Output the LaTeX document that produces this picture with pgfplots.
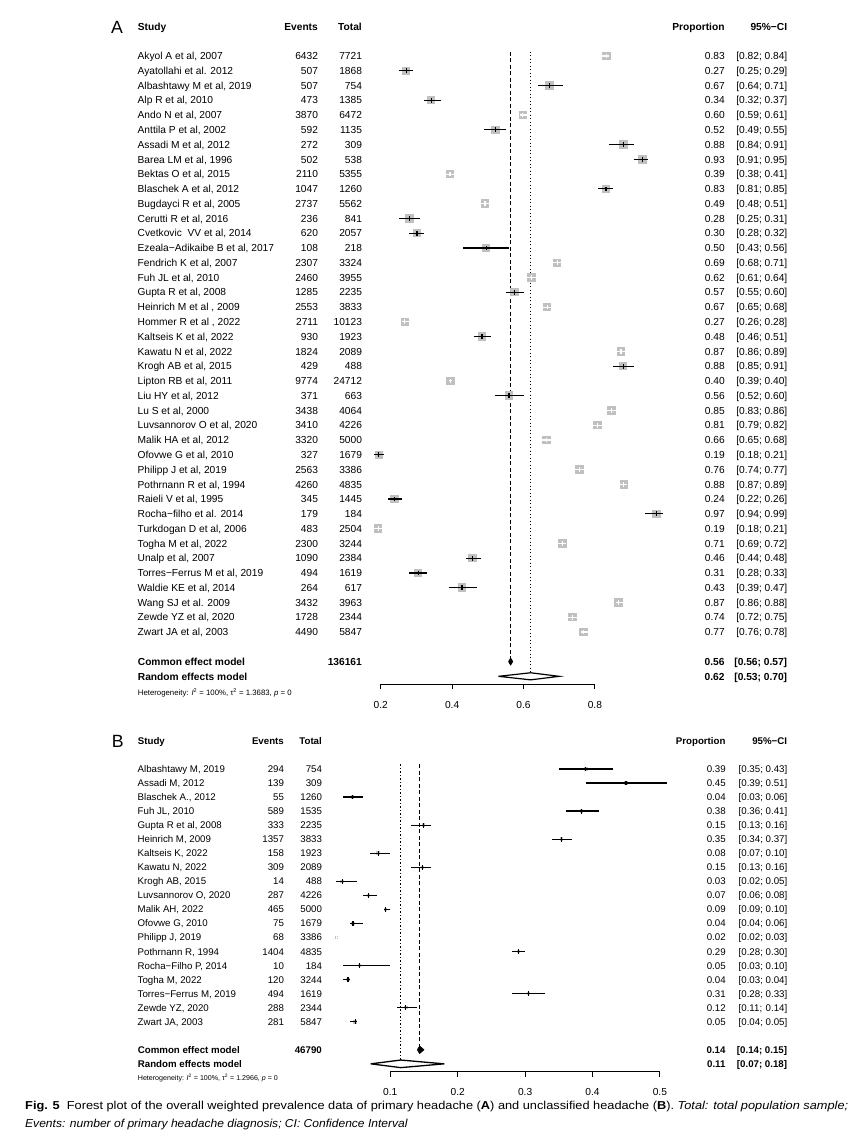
\documentclass[border=0pt]{standalone}
\usepackage{pgfplots}
\pgfplotsset{compat=1.18}
\usepackage{pgfplotstable}
\usepackage{graphicx}
\usepackage{fontspec}
\setmainfont{Liberation Sans}

\definecolor{sqgray}{RGB}{192,192,192}
\newcommand\fa{\fontsize{10.2pt}{12pt}\selectfont}
\newcommand\fb{\fontsize{9.7pt}{11.5pt}\selectfont}
\newcommand\fcap{\fontsize{11.5pt}{14pt}\selectfont}

\pgfplotstableread[col sep=&, row sep=\\]{
y & study & ev & tot & p & lo & hi & w \\
-1 & Akyol A et al, 2007 & 6432 & 7721 & 0.83 & 0.82 & 0.84 & 1 \\
-2 & Ayatollahi et al. 2012 & 507 & 1868 & 0.27 & 0.25 & 0.29 & 0 \\
-3 & Albashtawy M et al, 2019 & 507 & 754 & 0.67 & 0.64 & 0.71 & 0 \\
-4 & Alp R et al, 2010 & 473 & 1385 & 0.34 & 0.32 & 0.37 & 0 \\
-5 & Ando N et al, 2007 & 3870 & 6472 & 0.60 & 0.59 & 0.61 & 1 \\
-6 & Anttila P et al, 2002 & 592 & 1135 & 0.52 & 0.49 & 0.55 & 0 \\
-7 & Assadi M et al, 2012 & 272 & 309 & 0.88 & 0.84 & 0.91 & 0 \\
-8 & Barea LM et al, 1996 & 502 & 538 & 0.93 & 0.91 & 0.95 & 0 \\
-9 & Bektas O et al, 2015 & 2110 & 5355 & 0.39 & 0.38 & 0.41 & 1 \\
-10 & Blaschek A et al, 2012 & 1047 & 1260 & 0.83 & 0.81 & 0.85 & 0 \\
-11 & Bugdayci R et al, 2005 & 2737 & 5562 & 0.49 & 0.48 & 0.51 & 1 \\
-12 & Cerutti R et al, 2016 & 236 & 841 & 0.28 & 0.25 & 0.31 & 0 \\
-13 & Cvetkovic\ \ VV et al, 2014 & 620 & 2057 & 0.30 & 0.28 & 0.32 & 0 \\
-14 & Ezeala−Adikaibe B et al, 2017 & 108 & 218 & 0.50 & 0.43 & 0.56 & 0 \\
-15 & Fendrich K et al, 2007 & 2307 & 3324 & 0.69 & 0.68 & 0.71 & 1 \\
-16 & Fuh JL et al, 2010 & 2460 & 3955 & 0.62 & 0.61 & 0.64 & 1 \\
-17 & Gupta R et al, 2008 & 1285 & 2235 & 0.57 & 0.55 & 0.60 & 0 \\
-18 & Heinrich M et al , 2009 & 2553 & 3833 & 0.67 & 0.65 & 0.68 & 1 \\
-19 & Hommer R et al , 2022 & 2711 & 10123 & 0.27 & 0.26 & 0.28 & 1 \\
-20 & Kaltseis K et al, 2022 & 930 & 1923 & 0.48 & 0.46 & 0.51 & 0 \\
-21 & Kawatu N et al, 2022 & 1824 & 2089 & 0.87 & 0.86 & 0.89 & 1 \\
-22 & Krogh AB et al, 2015 & 429 & 488 & 0.88 & 0.85 & 0.91 & 0 \\
-23 & Lipton RB et al, 2011 & 9774 & 24712 & 0.40 & 0.39 & 0.40 & 1 \\
-24 & Liu HY et al, 2012 & 371 & 663 & 0.56 & 0.52 & 0.60 & 0 \\
-25 & Lu S et al, 2000 & 3438 & 4064 & 0.85 & 0.83 & 0.86 & 1 \\
-26 & Luvsannorov O et al, 2020 & 3410 & 4226 & 0.81 & 0.79 & 0.82 & 1 \\
-27 & Malik HA et al, 2012 & 3320 & 5000 & 0.66 & 0.65 & 0.68 & 1 \\
-28 & Ofovwe G et al, 2010 & 327 & 1679 & 0.19 & 0.18 & 0.21 & 0 \\
-29 & Philipp J et al, 2019 & 2563 & 3386 & 0.76 & 0.74 & 0.77 & 1 \\
-30 & Pothrnann R et al, 1994 & 4260 & 4835 & 0.88 & 0.87 & 0.89 & 1 \\
-31 & Raieli V et al, 1995 & 345 & 1445 & 0.24 & 0.22 & 0.26 & 0 \\
-32 & Rocha−filho et al. 2014 & 179 & 184 & 0.97 & 0.94 & 0.99 & 0 \\
-33 & Turkdogan D et al, 2006 & 483 & 2504 & 0.19 & 0.18 & 0.21 & 1 \\
-34 & Togha M et al, 2022 & 2300 & 3244 & 0.71 & 0.69 & 0.72 & 1 \\
-35 & Unalp et al, 2007 & 1090 & 2384 & 0.46 & 0.44 & 0.48 & 0 \\
-36 & Torres−Ferrus M et al, 2019 & 494 & 1619 & 0.31 & 0.28 & 0.33 & 0 \\
-37 & Waldie KE et al, 2014 & 264 & 617 & 0.43 & 0.39 & 0.47 & 0 \\
-38 & Wang SJ et al. 2009 & 3432 & 3963 & 0.87 & 0.86 & 0.88 & 1 \\
-39 & Zewde YZ et al, 2020 & 1728 & 2344 & 0.74 & 0.72 & 0.75 & 1 \\
-40 & Zwart JA et al, 2003 & 4490 & 5847 & 0.77 & 0.76 & 0.78 & 1 \\
}\dataA

\pgfplotstableread[col sep=&, row sep=\\]{
y & study & ev & tot & p & lo & hi & w \\
-1 & Albashtawy M, 2019 & 294 & 754 & 0.39 & 0.35 & 0.43 & 0 \\
-2 & Assadi M, 2012 & 139 & 309 & 0.45 & 0.39 & 0.51 & 0 \\
-3 & Blaschek A., 2012 & 55 & 1260 & 0.04 & 0.03 & 0.06 & 0 \\
-4 & Fuh JL, 2010 & 589 & 1535 & 0.38 & 0.36 & 0.41 & 0 \\
-5 & Gupta R et al, 2008 & 333 & 2235 & 0.15 & 0.13 & 0.16 & 0 \\
-6 & Heinrich M, 2009 & 1357 & 3833 & 0.35 & 0.34 & 0.37 & 0 \\
-7 & Kaltseis K, 2022 & 158 & 1923 & 0.08 & 0.07 & 0.10 & 0 \\
-8 & Kawatu N, 2022 & 309 & 2089 & 0.15 & 0.13 & 0.16 & 0 \\
-9 & Krogh AB, 2015 & 14 & 488 & 0.03 & 0.02 & 0.05 & 0 \\
-10 & Luvsannorov O, 2020 & 287 & 4226 & 0.07 & 0.06 & 0.08 & 0 \\
-11 & Malik AH, 2022 & 465 & 5000 & 0.09 & 0.09 & 0.10 & 0 \\
-12 & Ofovwe G, 2010 & 75 & 1679 & 0.04 & 0.04 & 0.06 & 0 \\
-13 & Philipp J, 2019 & 68 & 3386 & 0.02 & 0.02 & 0.03 & 1 \\
-14 & Pothrnann R, 1994 & 1404 & 4835 & 0.29 & 0.28 & 0.30 & 0 \\
-15 & Rocha−Filho P, 2014 & 10 & 184 & 0.05 & 0.03 & 0.10 & 0 \\
-16 & Togha M, 2022 & 120 & 3244 & 0.04 & 0.03 & 0.04 & 0 \\
-17 & Torres−Ferrus M, 2019 & 494 & 1619 & 0.31 & 0.28 & 0.33 & 0 \\
-18 & Zewde YZ, 2020 & 288 & 2344 & 0.12 & 0.11 & 0.14 & 0 \\
-19 & Zwart JA, 2003 & 281 & 5847 & 0.05 & 0.04 & 0.05 & 0 \\
}\dataB

\pgfplotsset{
  tcol/.style n args={3}{draw=none, mark=none, nodes near coords, point meta=explicit symbolic,
    every node near coord/.append style={anchor=base #1, inner sep=0pt, outer sep=0pt, font=#2, yshift=#3, text=black}},
  % CI lines (x error bars) and estimate ticks (y error bars) from the table
  cibars/.style n args={2}{draw=none, mark=none,
    error bars/.cd, x dir=both, x explicit, y dir=both, y explicit, error mark=none,
    error bar style={line width=#1, draw=#2, solid, line cap=butt}},
  % weight squares, drawn as thick short error bars so that they lie under the CI lines
  sqbars/.style n args={2}{draw=none, mark=none,
    error bars/.cd, x dir=both, x fixed=#1, error mark=none,
    error bar style={line width=#2, draw=sqgray, solid, line cap=butt}},
  forest/.style={scale only axis, clip=false, axis x line*=bottom, axis y line=none,
    xtick align=outside, major tick length=5pt,
    x axis line style={line width=1pt, black}, tick style={line width=1pt, black},
    xticklabel style={font=\fa, yshift=-8.5pt, /pgf/number format/assume math mode=true,
      /pgf/number format/fixed, /pgf/number format/fixed zerofill, /pgf/number format/precision=1},
  },
}

\begin{document}
\begin{tikzpicture}
\useasboundingbox (0,0) rectangle (864pt,1135pt);

% ---------------- Panel A ----------------
\begin{axis}[forest, at={(380.7pt,450.7pt)}, anchor=south west,
  width=214.2pt, height=643.1pt, xmin=0.2, xmax=0.8, ymin=-43.54, ymax=0,
  xtick={0.2,0.4,0.6,0.8}]
% reference lines
\addplot[black, line width=1.3pt, dash pattern=on 4pt off 2.5pt] coordinates {(0.564,-0.7) (0.564,-41.8)};
\addplot[black, line width=1.1pt, dash pattern=on 1.1pt off 2.4pt] coordinates {(0.62,-0.7) (0.62,-42.8)};
% squares
\addplot[sqbars={0.0118}{8.4pt}] table[x expr=\thisrow{ev}/\thisrow{tot}, y=y]{\dataA};
% black CIs (rows with w=0)
\addplot[cibars={1.2pt}{black}]
  table[x expr=\thisrow{ev}/\thisrow{tot}, y=y,
        x error minus expr=(1-\thisrow{w})*(\thisrow{ev}/\thisrow{tot}-\thisrow{lo}),
        x error plus expr=(1-\thisrow{w})*(\thisrow{hi}-\thisrow{ev}/\thisrow{tot}),
        y error expr=(1-\thisrow{w})*0.16]{\dataA};
% white CIs inside squares (rows with w=1)
\addplot[cibars={1.1pt}{white}]
  table[x expr=\thisrow{ev}/\thisrow{tot}, y=y,
        x error minus expr=\thisrow{w}*(\thisrow{ev}/\thisrow{tot}-\thisrow{lo}),
        x error plus expr=\thisrow{w}*(\thisrow{hi}-\thisrow{ev}/\thisrow{tot}),
        y error expr=\thisrow{w}*0.16]{\dataA};
% diamonds
\addplot[fill=black, draw=black, line width=0.6pt] coordinates {(0.558,-42) (0.564,-41.76) (0.570,-42) (0.564,-42.24) (0.558,-42)};
\addplot[fill=white, draw=black, line width=1.2pt] coordinates {(0.53,-43) (0.62,-42.76) (0.70,-43) (0.62,-43.24) (0.53,-43)};
% text columns
\addplot[tcol={west}{\fa}{-3.7pt}] table[x expr=-0.4807, y=y, meta=study]{\dataA};
\addplot[tcol={east}{\fa}{-3.7pt}] table[x expr=0.0244, y=y, meta=ev]{\dataA};
\addplot[tcol={east}{\fa}{-3.7pt}] table[x expr=0.1476, y=y, meta=tot]{\dataA};
\addplot[tcol={east}{\fa}{-3.7pt}] table[x expr=1.1636, y=y, meta=p]{\dataA};
\addplot[tcol={west}{\fa}{-3.7pt}, nodes near coords={[\pgfplotspointmeta;}] table[x expr=1.1961, y=y, meta=lo]{\dataA};
\addplot[tcol={east}{\fa}{-3.7pt}, nodes near coords={\pgfplotspointmeta]}] table[x expr=1.3389, y=y, meta=hi]{\dataA};
% headers
\node[anchor=base, font=\fontsize{17.7pt}{20pt}\selectfont, yshift=-6.3pt, inner sep=0pt] at (axis cs:-0.5387,0.98) {A};
\node[anchor=base west, font=\fa\bfseries, yshift=-3.7pt, inner sep=0pt] at (axis cs:-0.4807,0.98) {Study};
\node[anchor=base east, font=\fa\bfseries, yshift=-3.7pt, inner sep=0pt] at (axis cs:0.0244,0.98) {Events};
\node[anchor=base east, font=\fa\bfseries, yshift=-3.7pt, inner sep=0pt] at (axis cs:0.1476,0.98) {Total};
\node[anchor=base east, font=\fa\bfseries, yshift=-3.7pt, inner sep=0pt] at (axis cs:1.1636,0.98) {Proportion};
\node[anchor=base east, font=\fa\bfseries, yshift=-3.7pt, inner sep=0pt] at (axis cs:1.3389,0.98) {95\%−CI};
% summary rows
\node[anchor=base west, font=\fa\bfseries, yshift=-3.7pt, inner sep=0pt] at (axis cs:-0.4807,-42) {Common effect model};
\node[anchor=base east, font=\fa\bfseries, yshift=-3.7pt, inner sep=0pt] at (axis cs:0.1476,-42) {136161};
\node[anchor=base east, font=\fa\bfseries, yshift=-3.7pt, inner sep=0pt] at (axis cs:1.1636,-42) {0.56};
\node[anchor=base east, font=\fa\bfseries, yshift=-3.7pt, inner sep=0pt] at (axis cs:1.3389,-42) {[0.56; 0.57]};
\node[anchor=base west, font=\fa\bfseries, yshift=-3.7pt, inner sep=0pt] at (axis cs:-0.4807,-43) {Random effects model};
\node[anchor=base east, font=\fa\bfseries, yshift=-3.7pt, inner sep=0pt] at (axis cs:1.1636,-43) {0.62};
\node[anchor=base east, font=\fa\bfseries, yshift=-3.7pt, inner sep=0pt] at (axis cs:1.3389,-43) {[0.53; 0.70]};
\node[anchor=base west, font=\fontsize{7.8pt}{9pt}\selectfont, yshift=-2.8pt, inner sep=0pt] at (axis cs:-0.4807,-44.1)
  {Heterogeneity: \textit{I}\textsuperscript{2} = 100\%, τ\textsuperscript{2} = 1.3683, \textit{p} = 0};
\end{axis}

% ---------------- Panel B ----------------
\begin{axis}[forest, at={(390.3pt,63.3pt)}, anchor=south west,
  width=269.6pt, height=316.7pt, xmin=0.1, xmax=0.5, ymin=-22.56, ymax=0,
  xtick={0.1,0.2,0.3,0.4,0.5}]
\addplot[black, line width=1.3pt, dash pattern=on 4pt off 2.5pt] coordinates {(0.1435,-0.67) (0.1435,-20.8)};
\addplot[black, line width=1.1pt, dash pattern=on 1.1pt off 2.4pt] coordinates {(0.1154,-0.67) (0.1154,-21.75)};
\addplot[sqbars={0.0027}{3.6pt}] table[x expr=\thisrow{ev}/\thisrow{tot}, y=y]{\dataB};
\addplot[cibars={1.35pt}{black}]
  table[x expr=\thisrow{ev}/\thisrow{tot}, y=y,
        x error minus expr=(1-\thisrow{w})*(\thisrow{ev}/\thisrow{tot}-\thisrow{lo}),
        x error plus expr=(1-\thisrow{w})*(\thisrow{hi}-\thisrow{ev}/\thisrow{tot}),
        y error expr=(1-\thisrow{w})*0.17]{\dataB};
\addplot[cibars={0.5pt}{white}]
  table[x expr=\thisrow{ev}/\thisrow{tot}, y=y,
        x error minus expr=\thisrow{w}*(\thisrow{ev}/\thisrow{tot}-\thisrow{lo}),
        x error plus expr=\thisrow{w}*(\thisrow{hi}-\thisrow{ev}/\thisrow{tot}),
        y error expr=\thisrow{w}*0.09]{\dataB};
\addplot[fill=black, draw=black, line width=0.6pt] coordinates {(0.140,-21) (0.1435,-20.73) (0.150,-21) (0.1435,-21.27) (0.140,-21)};
\addplot[fill=white, draw=black, line width=1.3pt] coordinates {(0.071,-22) (0.1154,-21.73) (0.180,-22) (0.1154,-22.27) (0.071,-22)};
\addplot[tcol={west}{\fb}{-3.5pt}] table[x expr=-0.2748, y=y, meta=study]{\dataB};
\addplot[tcol={east}{\fb}{-3.5pt}] table[x expr=-0.0577, y=y, meta=ev]{\dataB};
\addplot[tcol={east}{\fb}{-3.5pt}] table[x expr=-0.0013, y=y, meta=tot]{\dataB};
\addplot[tcol={east}{\fb}{-3.5pt}] table[x expr=0.5976, y=y, meta=p]{\dataB};
\addplot[tcol={west}{\fb}{-3.5pt}, nodes near coords={[\pgfplotspointmeta;}] table[x expr=0.6169, y=y, meta=lo]{\dataB};
\addplot[tcol={east}{\fb}{-3.5pt}, nodes near coords={\pgfplotspointmeta]}] table[x expr=0.689, y=y, meta=hi]{\dataB};
\node[anchor=base, font=\fontsize{17.7pt}{20pt}\selectfont, yshift=-6.3pt, inner sep=0pt] at (axis cs:-0.3045,1) {B};
\node[anchor=base west, font=\fb\bfseries, yshift=-3.5pt, inner sep=0pt] at (axis cs:-0.2748,1) {Study};
\node[anchor=base east, font=\fb\bfseries, yshift=-3.5pt, inner sep=0pt] at (axis cs:-0.0577,1) {Events};
\node[anchor=base east, font=\fb\bfseries, yshift=-3.5pt, inner sep=0pt] at (axis cs:-0.0013,1) {Total};
\node[anchor=base east, font=\fb\bfseries, yshift=-3.5pt, inner sep=0pt] at (axis cs:0.5976,1) {Proportion};
\node[anchor=base east, font=\fb\bfseries, yshift=-3.5pt, inner sep=0pt] at (axis cs:0.689,1) {95\%−CI};
\node[anchor=base west, font=\fb\bfseries, yshift=-3.5pt, inner sep=0pt] at (axis cs:-0.2748,-21) {Common effect model};
\node[anchor=base east, font=\fb\bfseries, yshift=-3.5pt, inner sep=0pt] at (axis cs:-0.0013,-21) {46790};
\node[anchor=base east, font=\fb\bfseries, yshift=-3.5pt, inner sep=0pt] at (axis cs:0.5976,-21) {0.14};
\node[anchor=base east, font=\fb\bfseries, yshift=-3.5pt, inner sep=0pt] at (axis cs:0.689,-21) {[0.14; 0.15]};
\node[anchor=base west, font=\fb\bfseries, yshift=-3.5pt, inner sep=0pt] at (axis cs:-0.2748,-22) {Random effects model};
\node[anchor=base east, font=\fb\bfseries, yshift=-3.5pt, inner sep=0pt] at (axis cs:0.5976,-22) {0.11};
\node[anchor=base east, font=\fb\bfseries, yshift=-3.5pt, inner sep=0pt] at (axis cs:0.689,-22) {[0.07; 0.18]};
\node[anchor=base west, font=\fontsize{7.1pt}{9pt}\selectfont, yshift=-2.6pt, inner sep=0pt] at (axis cs:-0.2748,-23.0)
  {Heterogeneity: \textit{I}\textsuperscript{2} = 100\%, τ\textsuperscript{2} = 1.2966, \textit{p} = 0};
\end{axis}

% ---------------- Caption ----------------
\node[anchor=base west, inner sep=0pt] at (25pt,25pt) {\resizebox{823pt}{\height}{\fcap\textbf{Fig. 5}\ \ Forest plot of the overall weighted prevalence data of primary headache (\textbf{A}) and unclassified headache (\textbf{B}). \textit{Total: total population sample;}}};
\node[anchor=base west, inner sep=0pt] at (25pt,8pt) {\resizebox{382.7pt}{\height}{\fcap\textit{Events: number of primary headache diagnosis; CI: Confidence Interval}}};
\end{tikzpicture}
\end{document}
